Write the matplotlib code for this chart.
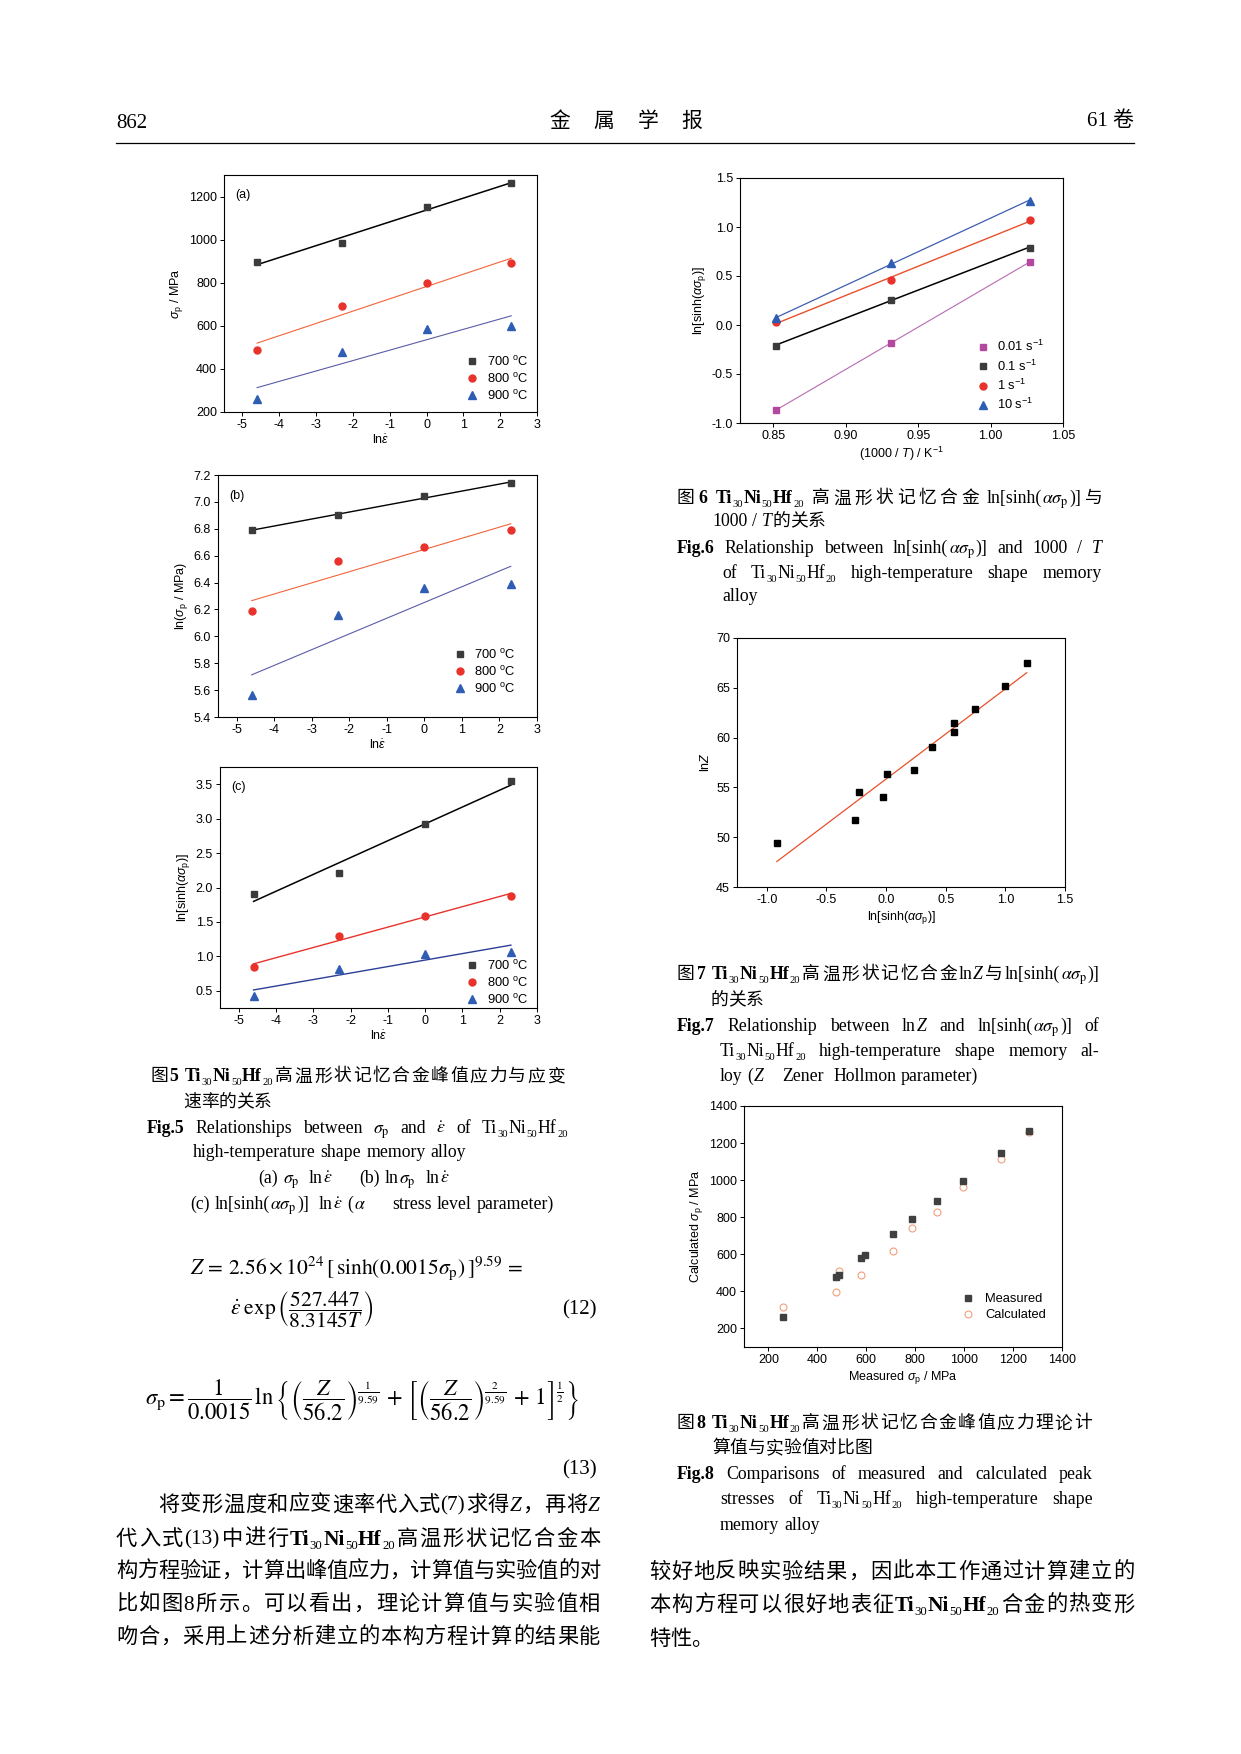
import numpy as np
import matplotlib
matplotlib.use('Agg')
import matplotlib.pyplot as plt
from matplotlib.lines import Line2D

# ---- datos ----
ln_rate = [-4.6, -2.3, 0.0, 2.3]
temp_labels = ['700 $^{\\rm o}$C', '800 $^{\\rm o}$C', '900 $^{\\rm o}$C']
# (a) sigma_p / MPa
sig_700 = [898, 983, 1150, 1265]
sig_800 = [487, 693, 797, 890]
sig_900 = [262, 477, 583, 597]
# (b) ln(sigma_p)
lnsig_700 = [6.79, 6.90, 7.045, 7.14]
lnsig_800 = [6.19, 6.56, 6.665, 6.79]
lnsig_900 = [5.56, 6.16, 6.36, 6.39]
# (c) ln[sinh(a*sigma_p)]
sinh_700 = [1.90, 2.21, 2.92, 3.54]
sinh_800 = [0.84, 1.30, 1.59, 1.88]
sinh_900 = [0.42, 0.82, 1.04, 1.07]
# fig 6
inv_T = [0.852, 0.931, 1.027]
rate_labels = ['0.01 s$^{-1}$', '0.1 s$^{-1}$', '1 s$^{-1}$', '10 s$^{-1}$']
f6_001 = [-0.87, -0.18, 0.64]
f6_01 = [-0.21, 0.26, 0.79]
f6_1 = [0.03, 0.46, 1.07]
f6_10 = [0.07, 0.63, 1.27]
# fig 7
f7_x = [-0.916, -0.26, -0.229, -0.022, 0.011, 0.237, 0.388, 0.567, 0.567, 0.746, 0.994, 1.179]
f7_y = [49.45, 51.76, 54.5, 54.07, 56.38, 56.78, 59.09, 61.43, 60.56, 62.9, 65.2, 67.52]
# fig 8
f8_meas = [260, 475, 488, 578, 594, 708, 788, 890, 996, 1149, 1265]
f8_calc_x = [260, 475, 488, 578, 708, 788, 890, 996, 1149, 1265]
f8_calc_y = [318, 397, 508, 489, 618, 742, 826, 964, 1113, 1262]

plt.rcParams['font.family'] = ['Liberation Sans', 'Noto Sans CJK SC']
plt.rcParams['mathtext.fontset'] = 'custom'
plt.rcParams['mathtext.rm'] = 'Liberation Sans'
plt.rcParams['mathtext.it'] = 'Liberation Sans:italic'
plt.rcParams['mathtext.bf'] = 'Liberation Sans:bold'
plt.rcParams['axes.unicode_minus'] = False

W, H = 1241, 1754
fig = plt.figure(figsize=(W / 100, H / 100), dpi=100)
fig.patch.set_facecolor('white')
rend = fig.canvas.get_renderer()

CJK = ['Noto Sans CJK SC']
SERIF = ['Liberation Serif']
FS = 9  # texto de los graficos


def make_ax(x0, y0, x1, y1, xlim, ylim, xticks, yticks):
    ax = fig.add_axes([x0 / W, 1 - y1 / H, (x1 - x0) / W, (y1 - y0) / H])
    ax.set_xlim(xlim)
    ax.set_ylim(ylim)
    ax.set_xticks(xticks)
    ax.set_yticks(yticks)
    ax.tick_params(direction='out', length=3, width=0.7, labelsize=FS, pad=2)
    for sp in ax.spines.values():
        sp.set_linewidth(0.8)
    return ax


def fit_line(ax, x, y, color, lw):
    k, b = np.polyfit(x, y, 1)
    xx = np.array([min(x), max(x)])
    ax.plot(xx, k * xx + b, color=color, lw=lw, zorder=2)


# texto enriquecido: chino, romano, negrita, cursiva, subindices, mathtext
def rich(x, y, toks, size=13, x1=None):
    em = size * 100 / 72
    sp = em * 0.25
    items = []
    pend = 0.0
    for kind, s in toks:
        if kind == 'c':
            for ch in s:
                if ch == ' ':
                    pend += sp
                    continue
                items.append([ch, dict(family=CJK, fontsize=size), 0.0, pend, True])
                pend = 0.0
        elif kind == 'm':
            items.append([s, dict(family=SERIF, fontsize=size, math_fontfamily='stix'), 0.0, pend, False])
            pend = 0.0
        elif kind == '_':
            items.append([s, dict(family=SERIF, fontsize=size * 0.6), em * 0.2, pend, False])
            pend = 0.0
        else:
            kw = dict(family=SERIF, fontsize=size)
            if kind == 'b':
                kw['fontweight'] = 'bold'
            if kind == 'i':
                kw['fontstyle'] = 'italic'
            for k, w in enumerate(s.split(' ')):
                if k > 0:
                    pend += sp
                if w:
                    items.append([w, kw, 0.0, pend, False])
                    pend = 0.0
    base = y + 0.36 * em
    texts, widths = [], []
    for s, kw, dy, gap, cjk in items:
        t = fig.text(0, 0, s, ha='left', va='baseline', **kw)
        texts.append(t)
        widths.append(em if cjk else t.get_window_extent(rend).width + 0.5)
    stretch = set()
    extra = 0.0
    if x1 is not None:
        for i in range(1, len(items)):
            if items[i][3] > 0 or items[i][4] or items[i - 1][4]:
                stretch.add(i)
        natural = sum(widths) + sum(it[3] for it in items)
        if stretch:
            extra = (x1 - x - natural) / len(stretch)
    cx = x
    for i, t in enumerate(texts):
        cx += items[i][3] + (extra if i in stretch else 0.0)
        t.set_position((cx / W, 1 - (base + items[i][2]) / H))
        cx += widths[i]


def alloy(kind):
    return [(kind, 'Ti'), ('_', '30'), (kind, 'Ni'), ('_', '50'), (kind, 'Hf'), ('_', '20')]


SIGP = r'$\sigma_{\rm p}$'
ASIGP = r'$\alpha\sigma_{\rm p}$'
EDOT = r'$\dot{\varepsilon}$'

# ---- cabecera ----
rich(116, 121, [('r', '862')], size=15)
for k, ch in enumerate('金属学报'):
    fig.text((626 + (k - 1.5) * 44) / W, 1 - 121 / H, ch, family=CJK, fontsize=15,
             ha='center', va='center')
fig.text(1134 / W, 1 - 121 / H, '61 卷', family=['Liberation Serif', 'Noto Sans CJK SC'],
         fontsize=15, ha='right', va='center')
fig.add_artist(Line2D([116 / W, 1134 / W], [1 - 143 / H] * 2, lw=0.9, color='black'))

# ---- Fig 5 ----
sty5 = [('s', '#3b3b3b', 4.5), ('o', '#e8322b', 5), ('^', '#2f5db4', 5.5)]


def fig5(ax, series, lines, tag, ylab, anchor):
    for (m, c, ms), (lc, lw), y, lab in zip(sty5, lines, series, temp_labels):
        fit_line(ax, ln_rate, y, lc, lw)
        ax.plot(ln_rate, y, ls='none', marker=m, color=c, ms=ms, label=lab, zorder=3)
    ax.text(0.035, 0.94, tag, transform=ax.transAxes, fontsize=FS, va='top')
    ax.set_xlabel('ln' + EDOT, fontsize=FS, labelpad=2)
    ax.set_ylabel(ylab, fontsize=FS, labelpad=3)
    ax.legend(loc='lower right', bbox_to_anchor=anchor, frameon=False, fontsize=9.3,
              handlelength=1.0, handletextpad=0.6, labelspacing=0.25, borderaxespad=0.3,
              numpoints=1)


ax = make_ax(224, 175, 537, 412, (-5.5, 3), (200, 1300), range(-5, 4), range(200, 1201, 200))
fig5(ax, [sig_700, sig_800, sig_900], [('black', 1.1), ('#f2643a', 0.8), ('#5a5ca8', 0.8)],
     '(a)', SIGP + ' / MPa', (1.0, 0.0))

ax = make_ax(218, 475, 537, 717, (-5.5, 3), (5.4, 7.2), range(-5, 4), np.arange(5.4, 7.21, 0.2))
fig5(ax, [lnsig_700, lnsig_800, lnsig_900], [('black', 1.0), ('#f2643a', 0.8), ('#5a5ca8', 0.8)],
     '(b)', 'ln(' + SIGP + ' / MPa)', (0.96, 0.05))

ax = make_ax(220, 767, 537, 1008, (-5.5, 3), (0.25, 3.75), range(-5, 4), np.arange(0.5, 3.51, 0.5))
fig5(ax, [sinh_700, sinh_800, sinh_900], [('black', 1.1), ('#e8322b', 1.0), ('#2b3f96', 1.0)],
     '(c)', 'ln[sinh(' + ASIGP + ')]', (1.0, -0.033))

# ---- Fig 6 ----
ax = make_ax(740, 178, 1063, 423, (0.827, 1.05), (-1.0, 1.5), [0.85, 0.90, 0.95, 1.00, 1.05],
             np.arange(-1.0, 1.51, 0.5))
sty6 = [('s', '#b4479f', '#b86ab3', 0.8, 4.5), ('s', '#3b3b3b', 'black', 1.1, 4.5),
        ('o', '#e8322b', '#e8502b', 1.0, 5), ('^', '#2f5db4', '#3d5db0', 0.9, 5.5)]
for (m, c, lc, lw, ms), y, lab in zip(sty6, [f6_001, f6_01, f6_1, f6_10], rate_labels):
    fit_line(ax, inv_T, y, lc, lw)
    ax.plot(inv_T, y, ls='none', marker=m, color=c, ms=ms, label=lab, zorder=3)
ax.set_xlabel('(1000 / $T$) / K$^{-1}$', fontsize=FS, labelpad=2)
ax.set_ylabel('ln[sinh(' + ASIGP + ')]', fontsize=FS, labelpad=3)
ax.legend(loc='lower right', bbox_to_anchor=(0.99, -0.02), frameon=False, fontsize=9.3,
          handlelength=1.0, handletextpad=0.6, labelspacing=0.32, borderaxespad=0.8, numpoints=1)

# ---- Fig 7 ----
ax = make_ax(737, 638, 1065, 887, (-1.25, 1.5), (45, 70), np.arange(-1.0, 1.51, 0.5), range(45, 71, 5))
fit_line(ax, f7_x, f7_y, '#e8502b', 0.9)
ax.plot(f7_x, f7_y, ls='none', marker='s', color='black', ms=5, zorder=3)
ax.set_xlabel('ln[sinh(' + ASIGP + ')]', fontsize=FS, labelpad=2)
ax.set_ylabel('ln$Z$', fontsize=FS, labelpad=3)

# ---- Fig 8 ----
ax = make_ax(744, 1106, 1062, 1347, (100, 1400), (100, 1400), range(200, 1401, 200), range(200, 1401, 200))
ax.plot(f8_calc_x, f8_calc_y, ls='none', marker='o', mfc='none', mec='#f0a07c', mew=0.8,
        ms=5, zorder=2, label='Calculated')
ax.plot(f8_meas, f8_meas, ls='none', marker='s', color='#404040', ms=4.5, zorder=3, label='Measured')
h, l = ax.get_legend_handles_labels()
ax.legend(h[::-1], l[::-1], loc='lower right', bbox_to_anchor=(1.03, 0.0), frameon=False,
          fontsize=9.3, handlelength=1.0, handletextpad=0.8, labelspacing=0.3,
          borderaxespad=1.6, numpoints=1)
ax.set_xlabel('Measured ' + SIGP + ' / MPa', fontsize=FS, labelpad=2)
ax.set_ylabel('Calculated ' + SIGP + ' / MPa', fontsize=FS, labelpad=3)

# ---- pies de figura ----
CS = 12.8
rich(150, 1075, [('c', '图')] + [('b', '5 ')] + alloy('b') + [('c', '高温形状记忆合金峰值应力与应变')], CS, 565)
rich(183, 1101, [('c', '速率的关系')], CS)
rich(147, 1127, [('b', 'Fig.5'), ('r', ' Relationships between '), ('m', SIGP), ('r', ' and '),
                 ('m', EDOT), ('r', ' of ')] + alloy('r'), CS, 568)
rich(193, 1151, [('r', 'high-temperature shape memory alloy')], CS)
rich(258, 1177, [('r', '(a) '), ('m', SIGP), ('r', '  ln'), ('m', EDOT), ('r', '      (b) ln'),
                 ('m', SIGP), ('r', '  ln'), ('m', EDOT)], CS)
rich(190, 1203, [('r', '(c) ln[sinh('), ('m', ASIGP), ('r', ')]  ln'), ('m', EDOT), ('r', ' ('),
                 ('m', r'$\alpha$'), ('r', '      stress level parameter)')], CS)

rich(677, 497, [('c', '图'), ('b', '6 ')] + alloy('b') + [('c', ' 高温形状记忆合金 '), ('r', 'ln[sinh('),
                                                         ('m', ASIGP), ('r', ')]'), ('c', '与')], CS, 1103)
rich(712, 520, [('r', '1000 / '), ('i', 'T'), ('c', '的关系')], CS)
rich(677, 547, [('b', 'Fig.6'), ('r', ' Relationship between ln[sinh('), ('m', ASIGP),
                ('r', ')] and 1000 / '), ('i', 'T')], CS, 1102)
rich(722, 572, [('r', 'of ')] + alloy('r') + [('r', ' high-temperature shape memory')], CS, 1102)
rich(722, 595, [('r', 'alloy')], CS)

rich(677, 973, [('c', '图'), ('b', '7 ')] + alloy('b') + [('c', '高温形状记忆合金'), ('r', 'ln'), ('i', 'Z'),
                                                         ('c', '与'), ('r', 'ln[sinh('), ('m', ASIGP),
                                                         ('r', ')]')], CS, 1100)
rich(710, 999, [('c', '的关系')], CS)
rich(677, 1025, [('b', 'Fig.7'), ('r', ' Relationship between ln'), ('i', 'Z'), ('r', ' and ln[sinh('),
                 ('m', ASIGP), ('r', ')] of')], CS, 1100)
rich(720, 1050, alloy('r') + [('r', ' high-temperature shape memory al-')], CS, 1100)
rich(720, 1075, [('r', 'loy ('), ('i', 'Z'), ('r', '    Zener  Hollmon parameter)')], CS)

rich(677, 1422, [('c', '图'), ('b', '8 ')] + alloy('b') + [('c', '高温形状记忆合金峰值应力理论计')], CS, 1092)
rich(712, 1447, [('c', '算值与实验值对比图')], CS)
rich(677, 1473, [('b', 'Fig.8'), ('r', ' Comparisons of measured and calculated peak')], CS, 1093)
rich(720, 1498, [('r', 'stresses of ')] + alloy('r') + [('r', ' high-temperature shape')], CS, 1093)
rich(720, 1524, [('r', 'memory alloy')], CS)

# ---- ecuaciones ----
ES = 15.5
fig.text(190 / W, 1 - 1268 / H, r'$Z\,=\,2.56\times10^{24}\,[\,\sinh(0.0015\sigma_{\rm p})\,]^{9.59}\,=$',
         fontsize=ES, math_fontfamily='stix', va='center')
fig.text(230 / W, 1 - 1310 / H, r'$\dot{\varepsilon}\;\exp\left(\dfrac{527.447}{8.3145T}\right)$',
         fontsize=ES, math_fontfamily='stix', va='center')
fig.text(597 / W, 1 - 1310 / H, '(12)', family=SERIF, fontsize=15, ha='right', va='center')
fig.text(145 / W, 1 - 1400 / H,
         r'$\sigma_{\rm p}=\dfrac{1}{0.0015}\,\ln\left\{\left(\dfrac{Z}{56.2}\right)^{\frac{1}{9.59}}'
         r'\,+\,\left[\left(\dfrac{Z}{56.2}\right)^{\frac{2}{9.59}}\,+\,1\right]^{\frac{1}{2}}\right\}$',
         fontsize=16.3, math_fontfamily='stix', va='center')
fig.text(597 / W, 1 - 1470 / H, '(13)', family=SERIF, fontsize=15, ha='right', va='center')

# ---- texto del cuerpo ----
BS = 15.3
rich(158, 1503, [('c', '将变形温度和应变速率代入式'), ('r', '(7)'), ('c', '求得'), ('i', 'Z'),
                 ('c', '，再将'), ('i', 'Z')], BS, 600)
rich(116, 1537, [('c', '代入式'), ('r', '(13)'), ('c', '中进行')] + alloy('b') +
     [('c', '高温形状记忆合金本')], BS, 600)
rich(116, 1569, [('c', '构方程验证，计算出峰值应力，计算值与实验值的对')], BS, 600)
rich(116, 1602, [('c', '比如图'), ('r', '8'), ('c', '所示。可以看出，理论计算值与实验值相')], BS, 600)
rich(116, 1635, [('c', '吻合，采用上述分析建立的本构方程计算的结果能')], BS, 600)

rich(649, 1570, [('c', '较好地反映实验结果，因此本工作通过计算建立的')], BS, 1134)
rich(649, 1603, [('c', '本构方程可以很好地表征')] + alloy('b') + [('c', '合金的热变形')], BS, 1134)
rich(649, 1637, [('c', '特性。')], BS)

fig.savefig('out.png', dpi=100, facecolor='white')
